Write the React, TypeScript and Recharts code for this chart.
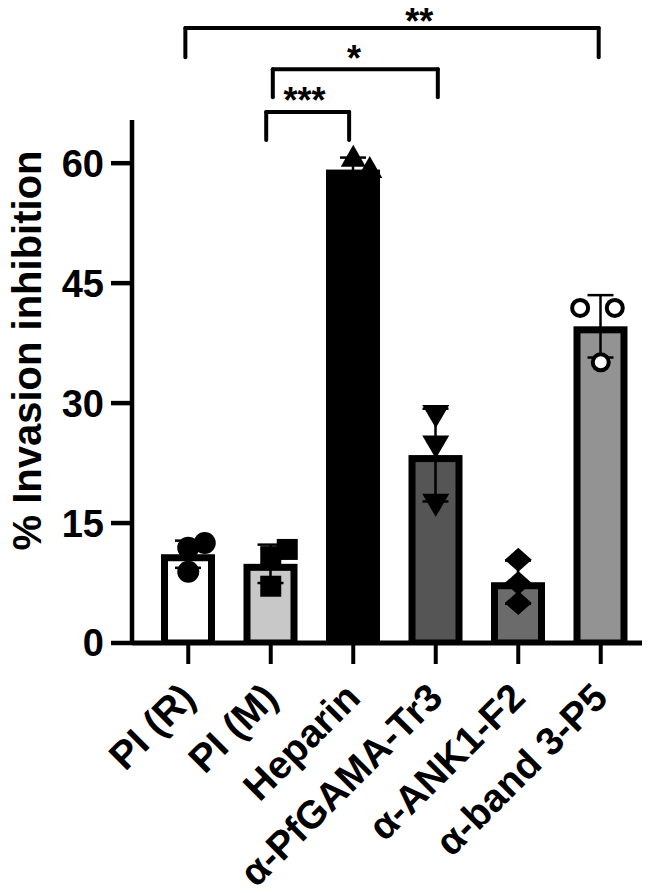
import React from "react";
import {
  ComposedChart,
  Bar,
  ErrorBar,
  Scatter,
  XAxis,
  YAxis,
  ReferenceLine,
  ReferenceDot,
} from "recharts";

// groups on the x axis
const CATEGORIES = [
  "PI (R)",
  "PI (M)",
  "Heparin",
  "α-PfGAMA-Tr3",
  "α-ANK1-F2",
  "α-band 3-P5",
];

// bar heights (mean) and SD
const MEANS = [11.1, 9.9, 59.2, 23.5, 7.6, 39.6];
const SDS = [1.7, 2.4, 1.5, 5.8, 2.7, 3.9];

// individual replicates, with their small horizontal shift (in groups)
const PI_R = [11.9, 12.5, 8.9];
const PI_R_SHIFT = [0, 0.2, 0];
const PI_M = [10.8, 11.7, 7.1];
const PI_M_SHIFT = [0, 0.2, 0];
const HEPARIN = [60.8, 59.4, 57.5];
const HEPARIN_SHIFT = [0, 0.2, 0];
const PFGAMA = [28.5, 24.7, 17.4];
const PFGAMA_SHIFT = [0, 0, 0];
const ANK1 = [10.4, 7.5, 5.0];
const ANK1_SHIFT = [0, 0, 0];
const BAND3 = [41.9, 41.9, 35.1];
const BAND3_SHIFT = [-0.25, 0.17, 0];

const Y_TICKS = [0, 15, 30, 45, 60];

// significance brackets: from/to in group units, top/bottom in % units
const BRACKET_FROM = [0.945, 1.025, -0.035];
const BRACKET_TO = [1.95, 3.025, 4.975];
const BRACKET_TOP = [66.4, 71.75, 76.9];
const BRACKET_BOTTOM = [62.9, 68.25, 73.25];
const BRACKET_STARS = ["***", "*", "**"];
const STAR_X = [1.41, 2.01, 2.8];
const STAR_Y = [67.9, 73.1, 77.8];

const BAR_FILLS = ["#ffffff", "#c8c8c8", "#000000", "#555555", "#6b6b6b", "#939393"];
const FONT = '"Liberation Sans", Arial, Helvetica, sans-serif';
const BORDER = 7;

const barData = CATEGORIES.map((name, i) => ({ name, mean: MEANS[i], sd: SDS[i] }));

const toPoints = (values: number[], shifts: number[], group: number) =>
  values.map((y, i) => ({ x: group + shifts[i], y }));

// bar with its outline drawn on the inside, like Prism does
const BarShape = (props: any) => {
  const { x, y, width, height, index } = props;
  if (width == null || height == null) return null;
  return (
    <rect
      x={x + BORDER / 2}
      y={y + BORDER / 2}
      width={width - BORDER}
      height={Math.max(height - BORDER / 2, 0)}
      fill={BAR_FILLS[index]}
      stroke="#000"
      strokeWidth={BORDER}
    />
  );
};

const dot = (props: any) => <circle cx={props.cx} cy={props.cy} r={11} fill="#000" />;
const openDot = (props: any) => (
  <circle cx={props.cx} cy={props.cy} r={8} fill="#fff" stroke="#000" strokeWidth={4} />
);
const square = (props: any) => (
  <rect x={props.cx - 10.5} y={props.cy - 10.5} width={21} height={21} fill="#000" />
);
const triUp = (props: any) => {
  const { cx, cy } = props;
  return <path d={`M${cx},${cy - 12}L${cx + 12.5},${cy + 10}L${cx - 12.5},${cy + 10}Z`} fill="#000" />;
};
const triDown = (props: any) => {
  const { cx, cy } = props;
  return <path d={`M${cx - 13.5},${cy - 10}L${cx + 13.5},${cy - 10}L${cx},${cy + 13}Z`} fill="#000" />;
};
const diamond = (props: any) => {
  const { cx, cy } = props;
  return (
    <path d={`M${cx},${cy - 12}L${cx + 13.5},${cy}L${cx},${cy + 12}L${cx - 13.5},${cy}Z`} fill="#000" />
  );
};

const XTick = (props: any) => {
  const { x, y, payload } = props;
  const ax = x + 9;
  const ay = y + 34;
  return (
    <text
      x={ax}
      y={ay}
      transform={`rotate(-45, ${ax}, ${ay})`}
      textAnchor="end"
      fontFamily={FONT}
      fontWeight="bold"
      fontSize={39}
      fill="#000"
    >
      {payload.value}
    </text>
  );
};

const YTitle = (props: any) => {
  const vb = props.viewBox || { x: 0, y: 120, width: 132, height: 523 };
  const cx = vb.x + 41;
  const cy = vb.y + vb.height / 2 - 31;
  return (
    <text
      x={cx}
      y={cy}
      transform={`rotate(-90, ${cx}, ${cy})`}
      textAnchor="middle"
      fontFamily={FONT}
      fontWeight="bold"
      fontSize={40}
      fill="#000"
    >
      % Invasion inhibition
    </text>
  );
};

const groups = [
  { data: toPoints(PI_R, PI_R_SHIFT, 0), shape: dot },
  { data: toPoints(PI_M, PI_M_SHIFT, 1), shape: square },
  { data: toPoints(HEPARIN, HEPARIN_SHIFT, 2), shape: triUp },
  { data: toPoints(PFGAMA, PFGAMA_SHIFT, 3), shape: triDown },
  { data: toPoints(ANK1, ANK1_SHIFT, 4), shape: diamond },
  { data: toPoints(BAND3, BAND3_SHIFT, 5), shape: openDot },
];

export default function App() {
  return (
    <div style={{ position: "absolute", left: 0, top: 0, background: "#fff" }}>
      <ComposedChart
        width={664}
        height={893}
        data={barData}
        margin={{ top: 120, right: 22, bottom: 0, left: 0 }}
      >
        <XAxis
          xAxisId="cat"
          dataKey="name"
          type="category"
          interval={0}
          padding={{ left: 15, right: 0 }}
          height={250}
          tickSize={21}
          axisLine={{ stroke: "#000", strokeWidth: 5 }}
          tickLine={{ stroke: "#000", strokeWidth: 4 }}
          tick={<XTick />}
        />
        <XAxis
          xAxisId="num"
          dataKey="x"
          type="number"
          domain={[-0.5, 5.5]}
          allowDataOverflow
          padding={{ left: 15, right: 0 }}
          hide
        />
        <YAxis
          type="number"
          domain={[0, 65.4]}
          allowDataOverflow
          ticks={Y_TICKS}
          interval={0}
          width={132}
          tickSize={21}
          tickMargin={7}
          axisLine={{ stroke: "#000", strokeWidth: 4.5 }}
          tickLine={{ stroke: "#000", strokeWidth: 4.5 }}
          tick={{ fill: "#000", fontSize: 38, fontWeight: "bold", fontFamily: FONT }}
          label={{ content: YTitle }}
        />
        <Bar
          xAxisId="cat"
          dataKey="mean"
          barSize={54}
          shape={BarShape}
          isAnimationActive={false}
        >
          <ErrorBar dataKey="sd" width={13} stroke="#000" strokeWidth={2.5} />
        </Bar>
        {groups.map((g, i) => (
          <Scatter
            key={i}
            xAxisId="num"
            dataKey="y"
            data={g.data}
            shape={g.shape}
            isAnimationActive={false}
          />
        ))}
        {BRACKET_STARS.map((_, i) => (
          <ReferenceLine
            key={`top-${i}`}
            xAxisId="num"
            ifOverflow="visible"
            segment={[
              { x: BRACKET_FROM[i], y: BRACKET_TOP[i] },
              { x: BRACKET_TO[i], y: BRACKET_TOP[i] },
            ]}
            stroke="#000"
            strokeWidth={4}
            strokeLinecap="round"
          />
        ))}
        {BRACKET_STARS.map((_, i) => (
          <ReferenceLine
            key={`left-${i}`}
            xAxisId="num"
            ifOverflow="visible"
            segment={[
              { x: BRACKET_FROM[i], y: BRACKET_TOP[i] },
              { x: BRACKET_FROM[i], y: BRACKET_BOTTOM[i] },
            ]}
            stroke="#000"
            strokeWidth={4}
            strokeLinecap="round"
          />
        ))}
        {BRACKET_STARS.map((_, i) => (
          <ReferenceLine
            key={`right-${i}`}
            xAxisId="num"
            ifOverflow="visible"
            segment={[
              { x: BRACKET_TO[i], y: BRACKET_TOP[i] },
              { x: BRACKET_TO[i], y: BRACKET_BOTTOM[i] },
            ]}
            stroke="#000"
            strokeWidth={4}
            strokeLinecap="round"
          />
        ))}
        {BRACKET_STARS.map((s, i) => (
          <ReferenceDot
            key={`star-${i}`}
            xAxisId="num"
            x={STAR_X[i]}
            y={STAR_Y[i]}
            r={0}
            fill="none"
            stroke="none"
            ifOverflow="visible"
            label={{
              value: s,
              position: "center",
              fill: "#000",
              fontSize: 36,
              fontWeight: "bold",
              fontFamily: FONT,
            }}
          />
        ))}
      </ComposedChart>
    </div>
  );
}
